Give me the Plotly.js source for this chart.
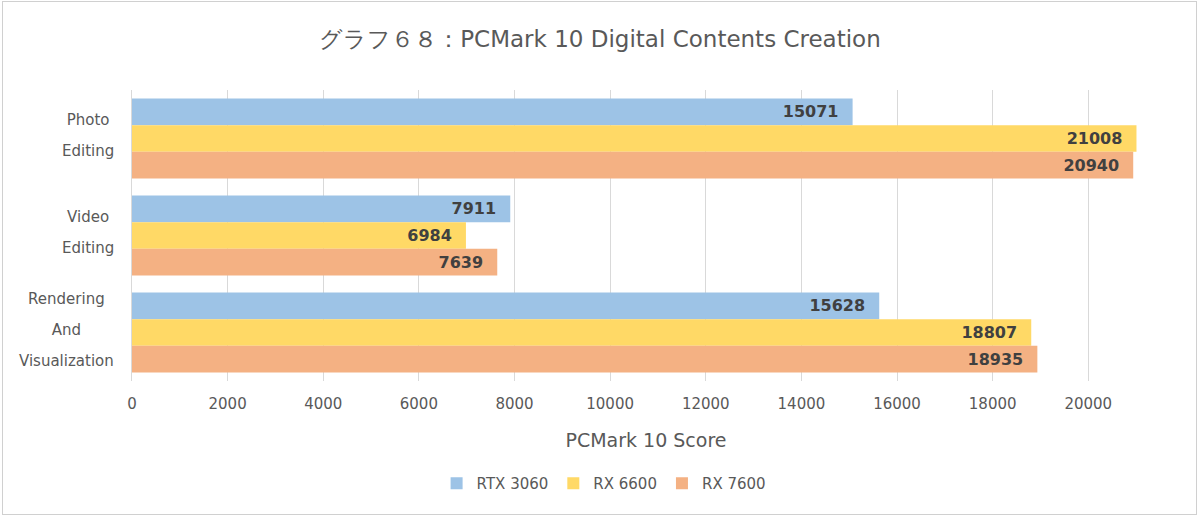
<!DOCTYPE html>
<html>
<head>
<meta charset="utf-8">
<script src="https://cdn.plot.ly/plotly-3.0.1.min.js"></script>
<style>
  html, body { margin: 0; padding: 0; background: #ffffff; }
  #wrap { position: relative; width: 1200px; height: 516px; }
  #chart { width: 1200px; height: 516px; }
  #frame { position: absolute; left: 2px; top: 1px; width: 1193px; height: 512px; border: 1px solid #d0d0d0; pointer-events: none; }
</style>
</head>
<body>
<div id="wrap"><div id="chart"></div><div id="frame"></div></div>
<script>
const categories = ["Photo Editing", "Video Editing", "Rendering And Visualization"];
const categoryLines = [["Photo", "Editing"], ["Video", "Editing"], ["Rendering", "And", "Visualization"]];
const seriesNames = ["RTX 3060", "RX 6600", "RX 7600"];
const rtx3060 = [15071, 7911, 15628];
const rx6600 = [21008, 6984, 18807];
const rx7600 = [20940, 7639, 18935];
const tickValues = [0, 2000, 4000, 6000, 8000, 10000, 12000, 14000, 16000, 18000, 20000];

const colors = ["#9DC3E6", "#FFD966", "#F4B183"];
const font = "DejaVu Sans, Verdana, sans-serif";
const seriesValues = [rtx3060, rx6600, rx7600];

const traces = seriesValues.map((vals, i) => ({
  type: "bar",
  orientation: "h",
  name: seriesNames[i],
  x: vals,
  y: categories,
  marker: { color: colors[i] },
  text: vals.map(v => String(v) + "\u00a0\u00a0"),
  textposition: "inside",
  insidetextanchor: "end",
  constraintext: "none",
  textfont: { family: font, size: 16, color: "#404040", weight: "bold" },
  hoverinfo: "x+name"
}));

const annotations = categories.map((c, i) => ({
  xref: "paper", yref: "y", x: 0, y: c,
  xanchor: "right", yanchor: "middle", xshift: -16, yshift: 3,
  align: "center",
  showarrow: false,
  font: { family: font, size: 24, color: "#595959" },
  text: categoryLines[i].map(l => '<span style="font-size:15px">' + l + '</span>').join("<br>")
}));

const layout = {
  width: 1200, height: 516,
  paper_bgcolor: "#ffffff", plot_bgcolor: "#ffffff",
  margin: { l: 132, r: 40, t: 90, b: 135 },
  title: { text: "グラフ６８：PCMark 10 Digital Contents Creation", x: 0.5, xref: "container", y: 0.925, yanchor: "middle",
           font: { family: font, size: 23, color: "#595959" } },
  barmode: "group",
  bargap: 0.175,
  bargroupgap: 0,
  xaxis: {
    range: [0, 21500], tickvals: tickValues, ticktext: tickValues.map(String),
    showgrid: true, gridcolor: "#d9d9d9", gridwidth: 1, zeroline: false,
    showline: false, ticks: "", ticklen: 0, ticklabelstandoff: 12,
    tickfont: { family: font, size: 15, color: "#595959" },
    title: { text: "PCMark 10 Score", font: { family: font, size: 19, color: "#595959" }, standoff: 21 }
  },
  yaxis: {
    type: "category", categoryorder: "array", categoryarray: categories,
    autorange: "reversed", showticklabels: false, showgrid: false, zeroline: false,
    showline: true, linecolor: "#d9d9d9", ticks: ""
  },
  legend: {
    orientation: "h", xref: "container", x: 0.503, xanchor: "center", yref: "container", y: 0.063, yanchor: "middle",
    font: { family: font, size: 15, color: "#595959" }, traceorder: "normal", itemwidth: 30
  },
  annotations: annotations,
  showlegend: true
};

Plotly.newPlot("chart", traces, layout, { displayModeBar: false, staticPlot: true });
</script>
</body>
</html>
